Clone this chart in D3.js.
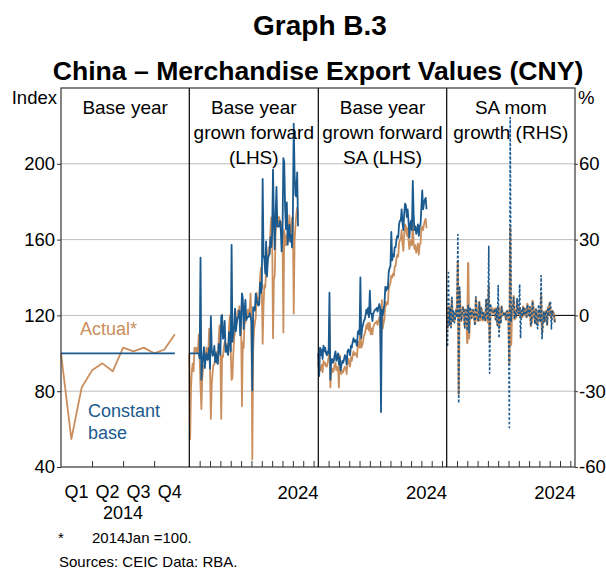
<!DOCTYPE html>
<html><head><meta charset="utf-8">
<script src="https://cdn.jsdelivr.net/npm/d3@7"></script>
<style>body{margin:0;background:#fff;} svg{display:block;font-family:"Liberation Sans",Arial,sans-serif;}</style>
</head><body><svg id="c" width="606" height="569"></svg>
<script>
// ---------- data ----------
const quarterLabels = ["Q1", "Q2", "Q3", "Q4"];
const baseYearLabel = "2014";
// Panel 1: 2014 monthly, index 2014 Jan = 100
const baseActual = [100, 54.7, 82, 91, 94.7, 90.5, 103, 101, 103, 100, 102, 110];
const baseConstant = [100, 100, 100, 100, 100, 100, 100, 100, 100, 100, 100, 100];

// Panels 2-4: monthly from Jan 2014 to Jul 2024
const startYear = 2014;
const grownActual = [
  100, 54.7, 82, 91, 94.7, 90.5, 103, 101, 103, 100, 102, 110,
  97.4, 82.3, 70.6, 85.7, 93, 93.5, 95, 99, 103, 96.6, 99, 113,
  91.9, 65.4, 83.6, 89.8, 94, 94, 98.2, 100.9, 98.2, 94.5, 107, 114.7,
  99.2, 65.4, 98.6, 98, 103, 106, 103.8, 105, 103.6, 99.2, 113.5, 120,
  101, 86, 87, 100, 108, 111.8, 115, 117.2, 122.6, 119, 124.9, 120.4,
  117.3, 72, 105.9, 102.7, 116, 116, 121, 120, 123, 119.3, 123.6, 131.6,
  116.6, 44, 102, 112, 116, 119, 131.9, 127.6, 129, 125.8, 140, 145,
  135, 105, 124.8, 136, 134.6, 143.9, 144.7, 150.8, 156, 152.4, 164.5, 171.7,
  163.3, 108, 139, 141, 163.5, 170, 172, 168.5, 172, 169.9, 168.7, 169.2,
  163, 111, 165, 161, 156.8, 162.5, 162, 164.7, 172.8, 159, 165.6, 171.5,
  172, 121, 159.6, 167, 173, 176.8, 172
];
const grownForward = [
  100, 100, 100, 100, 100, 100, 100, 100, 100, 100, 100, 100,
  97.4, 150.5, 86.1, 94.2, 98.2, 103.3, 92.2, 98, 100, 96.6, 97.1, 102.7,
  91.9, 119.6, 102, 98.7, 99.3, 103.9, 95.3, 99.9, 95.3, 94.5, 104.9, 104.3,
  99.2, 119.6, 120.2, 107.7, 108.8, 117.1, 100.8, 104, 100.6, 99.2, 111.3, 109.1,
  101, 157.2, 106.1, 109.9, 114, 123.5, 111.7, 116, 119, 119, 122.5, 109.5,
  117.3, 131.6, 129.1, 112.9, 122.5, 128.2, 117.5, 118.8, 119.4, 119.3, 121.2, 119.6,
  116.6, 80.4, 124.4, 123.1, 122.5, 131.5, 128.1, 126.3, 125.2, 125.8, 137.3, 131.8,
  135, 192, 152.2, 149.5, 142.1, 159, 140.5, 149.3, 151.5, 152.4, 161.3, 156.1,
  163.3, 197, 169.5, 154.9, 172.6, 187.8, 167, 166.8, 167, 169.9, 165.4, 153.8,
  163, 203, 201, 176.9, 165.6, 179.6, 157.3, 163.1, 167.8, 159, 162.4, 155.9,
  172, 221.2, 194.6, 183.5, 182.7, 195.4, 167
];
const saActual = [
  95, 90, 93, 91, 94, 90, 96, 94, 95, 93, 93, 95,
  98, 119, 82, 90, 92, 90, 91, 94, 95, 91, 93, 92,
  82, 99, 90, 89, 91, 90, 92, 93, 92, 89, 95, 97,
  95, 93, 98, 96, 99, 101, 99, 100, 100, 98, 104, 106,
  103, 115, 103, 104, 106, 109, 110, 112, 115, 113, 116, 112,
  116, 110, 113, 110, 114, 115, 116, 116, 117, 115, 117, 119,
  117, 95, 128, 113, 116, 118, 127, 125, 127, 126, 134, 136,
  137, 141, 140, 142, 141, 146, 146, 150, 152, 151, 158, 160,
  160, 165, 158, 154, 163, 168, 167, 162, 166, 160, 155, 158,
  160, 157, 170, 158, 155, 157, 153, 155, 158, 152, 157, 158,
  166, 167, 165, 168, 170, 171, 166
];
const saGrownForward = [
  100, 88, 103, 99, 102, 97, 104, 101, 103, 100, 99, 101,
  100, 132, 86, 96, 97, 95, 96, 99, 101, 96, 98, 100,
  94, 98, 91, 94, 96, 95, 97, 99, 98, 94, 101, 102,
  101, 99, 104, 103, 106, 108, 106, 107, 106, 104, 111, 112,
  110, 140, 108, 113, 115, 117, 118, 120, 123, 121, 124, 119,
  133, 121, 121, 117, 121, 122, 123, 123, 124, 122, 124, 126,
  124, 69, 123, 120, 123, 126, 135, 133, 135, 134, 143, 145,
  146, 164, 149, 152, 151, 156, 156, 160, 162, 161, 168, 170,
  170, 176, 169, 165, 174, 179, 178, 172, 176, 170, 161, 168,
  170, 165, 191, 173, 165, 167, 163, 165, 168, 162, 167, 168,
  177, 186, 176, 179, 181, 182, 176
];
const momActual = [
  null, -5.3, 3.3, -2.2, 3.3, -4.3, 6.7, -2.1, 1.1, -2.1, 0, 2.2,
  3.2, 21.4, -31.1, 9.8, 2.2, -2.2, 1.1, 3.3, 1.1, -4.2, 2.2, -1.1,
  -10.9, 20.7, -9.1, -1.1, 2.2, -1.1, 2.2, 1.1, -1.1, -3.3, 6.7, 2.1,
  -2.1, -2.1, 5.4, -2.0, 3.1, 2.0, -2.0, 1.0, 0, -2.0, 6.1, 1.9,
  -2.8, 11.7, -10.4, 1.0, 1.9, 2.8, 0.9, 1.8, 2.7, -1.7, 2.7, -3.4,
  3.6, -5.2, 2.7, -2.7, 3.6, 0.9, 0.9, 0, 0.9, -1.7, 1.7, 1.7,
  -1.7, -18.8, 34.7, -11.7, 2.7, 1.7, 7.6, -1.6, 1.6, -0.8, 6.3, 1.5,
  0.7, 2.9, -0.7, 1.4, -0.7, 3.5, 0, 2.7, 1.3, -0.7, 4.6, 1.3,
  0, 3.1, -4.2, -2.5, 5.8, 3.1, -0.6, -3.0, 2.5, -3.6, -3.1, 1.9,
  1.3, -1.9, 8.3, -7.1, -1.9, 1.3, -2.5, 1.3, 1.9, -3.8, 3.3, 0.6,
  5.1, 0.6, -1.2, 1.8, 1.2, 0.6, -2.9
];
const momGrownForward = [
  null, -12.0, 17.0, -3.9, 3.0, -4.9, 7.2, -2.9, 2.0, -2.9, -1.0, 2.0,
  -1.0, 32.0, -34.8, 11.6, 1.0, -2.1, 1.1, 3.1, 2.0, -5.0, 2.1, 2.0,
  -6.0, 4.3, -7.1, 3.3, 2.1, -1.0, 2.1, 2.1, -1.0, -4.1, 7.4, 1.0,
  -1.0, -2.0, 5.1, -1.0, 2.9, 1.9, -1.9, 0.9, -0.9, -1.9, 6.7, 0.9,
  -1.8, 27.3, -22.9, 4.6, 1.8, 1.7, 0.9, 1.7, 2.5, -1.6, 2.5, -4.0,
  11.8, -9.0, 0, -3.3, 3.4, 0.8, 0.8, 0, 0.8, -1.6, 1.6, 1.6,
  -1.6, -44.4, 78.3, -2.4, 2.5, 2.4, 7.1, -1.5, 1.5, -0.7, 6.7, 1.4,
  0.7, 12.3, -9.1, 2.0, -0.7, 3.3, 0, 2.6, 1.3, -0.6, 4.3, 1.2,
  0, 3.5, -4.0, -2.4, 5.5, 2.9, -0.6, -3.4, 2.3, -3.4, -5.3, 4.3,
  1.2, -2.9, 15.8, -9.4, -4.6, 1.2, -2.4, 1.2, 1.8, -3.6, 3.1, 0.6,
  5.4, 5.1, -5.4, 1.7, 1.1, 0.6, -3.3
];
const leftTicks = [40, 80, 120, 160, 200];
const rightTicks = [-60, -30, 0, 30, 60];
const gridValues = [80, 120, 160, 200];
const yearTicks = [2015, 2016, 2017, 2018, 2019, 2020, 2021, 2022, 2023, 2024, 2025, 2026];
const yearLabel = 2024;
const panelTitles = [
  ["Base year"],
  ["Base year", "grown forward", "(LHS)"],
  ["Base year", "grown forward", "SA (LHS)"],
  ["SA mom", "growth (RHS)"]
];

// ---------- layout ----------
const BLUE = "#1b5a8e", ORANGE = "#cb8e5d", GRID = "#bdbdbd", FRAME = "#333";
const plotTop = 88, plotBottom = 467;
const edges = [61, 189.3, 318.3, 446.7, 575];
const svg = d3.select("#c");
const yL = d3.scaleLinear().domain([40, 240]).range([plotBottom, plotTop]);
const yR = d3.scaleLinear().domain([-60, 90]).range([plotBottom, plotTop]);
const x1 = d3.scaleLinear().domain([0, 12.4]).range([edges[0], edges[1]]);
const xs = [1, 2, 3].map(k => d3.scaleLinear().domain([2014, 2014 + 12.456]).range([edges[k], edges[k + 1]]));
const tOf = i => startYear + i / 12;

// titles
svg.append("text").attr("x", 320).attr("y", 35).attr("text-anchor", "middle")
  .attr("font-size", 28).attr("font-weight", "bold").text("Graph B.3");
svg.append("text").attr("x", 318).attr("y", 80).attr("text-anchor", "middle")
  .attr("font-size", 26.6).attr("font-weight", "bold").text("China – Merchandise Export Values (CNY)");

// gridlines
svg.append("g").selectAll("line").data(gridValues).join("line")
  .attr("x1", edges[0]).attr("x2", edges[4])
  .attr("y1", d => yL(d)).attr("y2", d => yL(d))
  .attr("stroke", GRID).attr("stroke-width", 1);
svg.append("line").attr("x1", edges[3]).attr("x2", edges[4])
  .attr("y1", yR(0)).attr("y2", yR(0)).attr("stroke", "#000").attr("stroke-width", 1);

// lines
function drawLine(data, xScale, yScale, xAcc, color, w, dash) {
  const line = d3.line().defined(d => d != null)
    .x((d, i) => xScale(xAcc(i))).y(d => yScale(d));
  const p = svg.append("path").datum(data).attr("d", line)
    .attr("fill", "none").attr("stroke", color).attr("stroke-width", w)
    .attr("stroke-linejoin", "round");
  if (dash) p.attr("stroke-dasharray", dash);
}
// panel 1
drawLine(baseActual, x1, yL, i => i, ORANGE, 1.8);
drawLine(baseConstant, x1, yL, i => i, BLUE, 1.8);
// panel 2
drawLine(grownActual, xs[0], yL, tOf, ORANGE, 1.8);
drawLine(grownForward, xs[0], yL, tOf, BLUE, 1.8);
// panel 3
drawLine(saActual, xs[1], yL, tOf, ORANGE, 1.8);
drawLine(saGrownForward, xs[1], yL, tOf, BLUE, 1.8);
// panel 4
drawLine(momActual, xs[2], yR, tOf, ORANGE, 2.2);
drawLine(momGrownForward, xs[2], yR, tOf, BLUE, 1.6, "2.5,2");

// frame & dividers
svg.append("rect").attr("x", edges[0]).attr("y", plotTop).attr("width", edges[4] - edges[0])
  .attr("height", plotBottom - plotTop).attr("fill", "none").attr("stroke", FRAME).attr("stroke-width", 1.2);
svg.append("g").selectAll("line").data(edges.slice(1, 4)).join("line")
  .attr("x1", d => d).attr("x2", d => d).attr("y1", plotTop).attr("y2", plotBottom)
  .attr("stroke", "#000").attr("stroke-width", 1.2);

// left axis
const gl = svg.append("g").attr("transform", `translate(${edges[0]},0)`)
  .call(d3.axisLeft(yL).tickValues(leftTicks).tickSize(4).tickPadding(2));
gl.select(".domain").remove();
gl.selectAll("text").attr("font-size", 18.5).attr("font-family", "Liberation Sans, Arial, sans-serif").attr("fill", "#000");
gl.selectAll("line").attr("stroke", FRAME);
// right axis
const gr = svg.append("g").attr("transform", `translate(${edges[4]},0)`)
  .call(d3.axisRight(yR).tickValues(rightTicks).tickSize(3).tickPadding(1).tickFormat(d => String(d)));
gr.select(".domain").remove();
gr.selectAll("text").attr("font-size", 18.5).attr("font-family", "Liberation Sans, Arial, sans-serif").attr("fill", "#000");
gr.selectAll("line").attr("stroke", FRAME);
svg.append("text").attr("x", 57).attr("y", 104).attr("text-anchor", "end").attr("font-size", 18.5).text("Index");
svg.append("text").attr("x", 578).attr("y", 104).attr("font-size", 18.5).text("%");

// bottom ticks (inward)
const gb1 = svg.append("g").attr("transform", `translate(0,${plotBottom})`)
  .call(d3.axisBottom(x1).tickValues([3, 6, 9]).tickSizeInner(-6).tickSizeOuter(0).tickFormat(""));
gb1.select(".domain").remove();
gb1.selectAll("line").attr("stroke", FRAME);
xs.forEach(xsc => {
  const g = svg.append("g").attr("transform", `translate(0,${plotBottom})`)
    .call(d3.axisBottom(xsc).tickValues(yearTicks).tickSizeInner(-6).tickSizeOuter(0).tickFormat(""));
  g.select(".domain").remove();
  g.selectAll("line").attr("stroke", FRAME);
  svg.append("text").attr("x", xsc(yearLabel + 0.5)).attr("y", 499).attr("text-anchor", "middle")
    .attr("font-size", 18.5).text(String(yearLabel));
});
svg.append("g").selectAll("text").data(quarterLabels).join("text")
  .attr("x", (d, i) => x1(i * 3 + 1.5)).attr("y", 498).attr("text-anchor", "middle")
  .attr("font-size", 18).text(d => d);
svg.append("text").attr("x", x1(6)).attr("y", 519).attr("text-anchor", "middle")
  .attr("font-size", 18).text(baseYearLabel);

// panel titles
panelTitles.forEach((lines, k) => {
  const cx = (edges[k] + edges[k + 1]) / 2;
  lines.forEach((s, j) => {
    svg.append("text").attr("x", cx).attr("y", 114 + j * 25).attr("text-anchor", "middle")
      .attr("font-size", 19).text(s);
  });
});

// annotations
svg.append("text").attr("x", 80).attr("y", 335).attr("font-size", 18).attr("fill", ORANGE).text("Actual*");
svg.append("text").attr("x", 88).attr("y", 417).attr("font-size", 18).attr("fill", BLUE).text("Constant");
svg.append("text").attr("x", 88).attr("y", 439).attr("font-size", 18).attr("fill", BLUE).text("base");

// footnotes
svg.append("text").attr("x", 58).attr("y", 543).attr("font-size", 15).text("*");
svg.append("text").attr("x", 92).attr("y", 543).attr("font-size", 15).text("2014Jan =100.");
svg.append("text").attr("x", 59).attr("y", 567).attr("font-size", 15).text("Sources: CEIC Data: RBA.");
</script></body></html>
